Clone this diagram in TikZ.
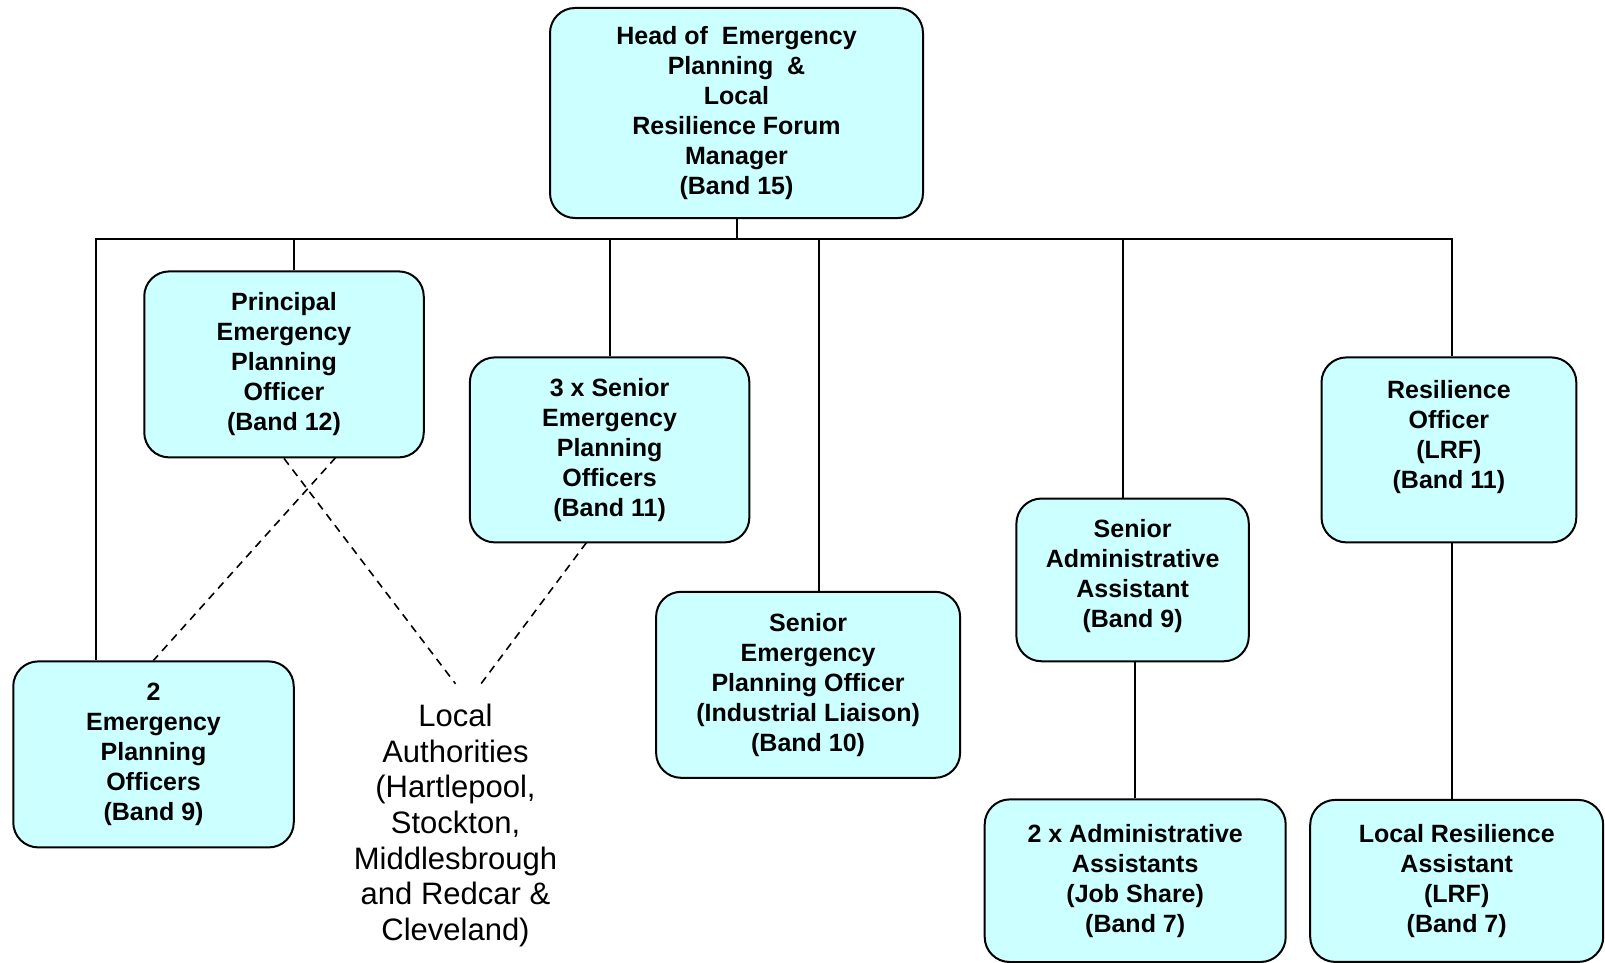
\documentclass[tikz,border=0pt]{standalone}
\usepackage{fontspec}
\setmainfont{Liberation Sans}
\definecolor{boxcyan}{HTML}{CCFFFF}

\begin{document}
\begin{tikzpicture}[%
      x=1pt, y=-1pt,
      post/.style={draw=black, line width=2pt, rounded corners=25pt, fill=boxcyan,
        align=center, inner sep=0pt, font=\bfseries\fontsize{25}{30}\selectfont},
      link/.style={color=black, line width=2pt},
      dotlink/.style={color=black, line width=1.6pt, dash pattern=on 8pt off 6pt},
      ]
      \useasboundingbox (0,0) rectangle (1605,963);

      \node [post, minimum width=373pt, minimum height=210pt] (head) at (736.5,113)
        {Head of~~Emergency\\Planning~~\&\\Local\\Resilience Forum\\Manager\\(Band 15)};
      \node [post, minimum width=279.5pt, minimum height=186pt] (pepo) at (284,364.4)
        {Principal\\Emergency\\Planning\\Officer\\(Band 12)};
      \node [post, minimum width=280.5pt, minimum height=186pt] (epo) at (153.5,754.4)
        {2\\Emergency\\Planning\\Officers\\(Band 9)};
      \node [post, minimum width=279.5pt, minimum height=185pt] (sepo) at (609.6,449.9)
        {3 x Senior\\Emergency\\Planning\\Officers\\(Band 11)};
      \node [post, minimum width=304pt, minimum height=186pt] (sepoil) at (808.1,684.8)
        {Senior\\Emergency\\Planning Officer\\(Industrial Liaison)\\(Band 10)};
      \node [post, minimum width=232.4pt, minimum height=162.7pt] (saa) at (1132.6,579.9)
        {Senior\\Administrative\\Assistant\\(Band 9)\\[-18pt]~};
      \node [post, minimum width=301pt, minimum height=162.6pt] (aa) at (1135.2,880.7)
        {2 x Administrative\\Assistants\\(Job Share)\\(Band 7)};
      \node [post, minimum width=254.8pt, minimum height=185pt] (ro) at (1448.9,449.9)
        {Resilience\\Officer\\(LRF)\\(Band 11)\\~};
      \node [post, minimum width=293pt, minimum height=162pt] (lra) at (1456.7,880.9)
        {Local Resilience\\Assistant\\(LRF)\\(Band 7)};

      \node [font=\fontsize{31}{35.6}\selectfont, align=center, inner sep=0pt, anchor=north]
        (la) at (455.5,704)
        {Local\\Authorities\\(Hartlepool,\\Stockton,\\Middlesbrough\\and Redcar \&\\Cleveland)};

      \coordinate (busL) at (96,239);
      \coordinate (busR) at (1451.5,239);
      \coordinate (s1) at (294,239);
      \coordinate (s2) at (819,239);
      \coordinate (s3) at (1123,239);

      \draw [link] (busL |- epo.north) -- (busL) -- (busR) -- (busR |- ro.north);
      \draw [link] (head.south) -- (head.south |- busL);
      \draw [link] (s1) -- (s1 |- pepo.north);
      \draw [link] (sepo.north) -- (sepo.north |- busL);
      \draw [link] (s2) -- (s2 |- sepoil.north);
      \draw [link] (s3) -- (s3 |- saa.north);
      \draw [link] (aa.north) -- (aa.north |- saa.south);
      \draw [link] (busR |- ro.south) -- (busR |- lra.north);

      \coordinate (d1) at (335.7,457.5);
      \coordinate (d2) at (586.5,542.5);
      \coordinate (la1) at (455.5,683.8);
      \coordinate (la2) at (481,683.8);

      \draw [dotlink] (pepo.south) -- (la1);
      \draw [dotlink] (d1) -- (epo.north);
      \draw [dotlink] (d2) -- (la2);
      \end{tikzpicture}
\end{document}
